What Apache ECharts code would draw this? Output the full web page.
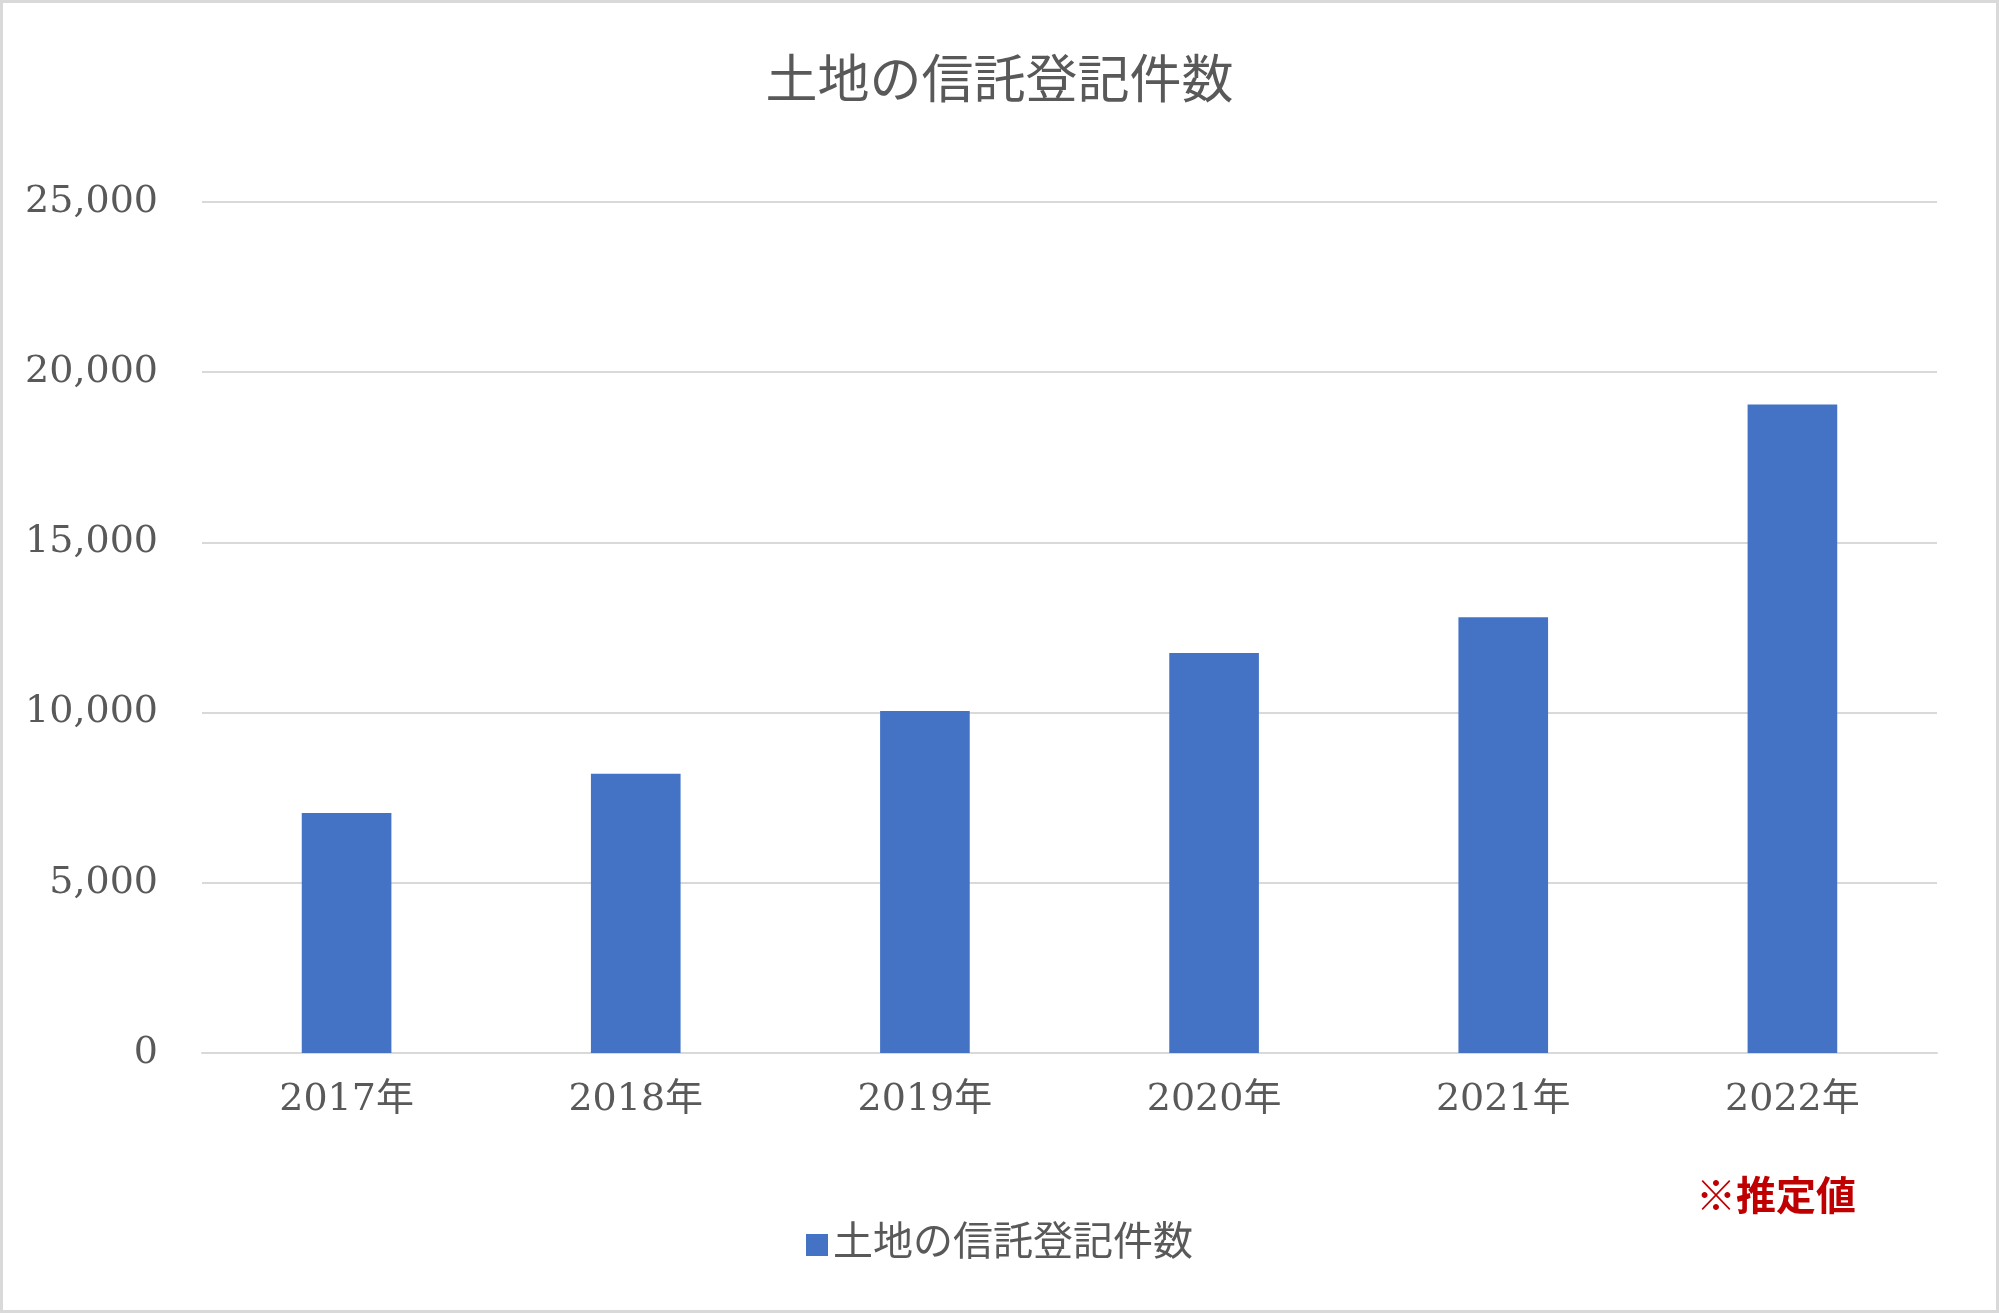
<!DOCTYPE html>
<html><head><meta charset="utf-8">
<script src="https://cdn.jsdelivr.net/npm/echarts@6/dist/echarts.min.js"></script>
<style>html,body{margin:0;padding:0;background:#fff}#c{width:1999px;height:1313px;box-sizing:border-box;border:3px solid #d9d9d9}</style>
</head><body><div id="c"></div>
<script>
const categories = ['2017年','2018年','2019年','2020年','2021年','2022年'];
const values = [7050, 8200, 10050, 11750, 12800, 19050];
const seriesName = '土地の信託登記件数';
const note = '※推定値';
const font = '"DejaVu Serif","Noto Sans CJK JP",serif';
const chart = echarts.init(document.getElementById('c'));
chart.setOption({
  animation:false,
  title:{text:seriesName,left:'center',top:50,textStyle:{fontFamily:font,fontSize:52,fontWeight:'normal',color:'#595959'}},
  legend:{bottom:40,left:'center',itemWidth:22,itemHeight:22,icon:'rect',textStyle:{fontFamily:font,fontSize:40,color:'#595959'}},
  graphic:[{type:'text',left:1693,top:1172,style:{text:note,fontFamily:'"Noto Sans CJK JP"',fontWeight:'bold',fontSize:40,fill:'#c00000'}}],
  grid:{left:199,right:59,top:199,bottom:257},
  xAxis:{type:'category',data:categories,axisTick:{show:false},axisLine:{lineStyle:{color:'#d9d9d9',width:2}},
    axisLabel:{fontFamily:font,fontSize:38,color:'#595959',margin:28}},
  yAxis:{type:'value',min:0,max:25000,interval:5000,axisLabel:{fontFamily:font,fontSize:38,color:'#595959',margin:44},
    splitLine:{lineStyle:{color:'#d9d9d9',width:2}}},
  series:[{name:seriesName,type:'bar',data:values,barWidth:'31%',itemStyle:{color:'#4472c4'}}]
});
</script></body></html>
